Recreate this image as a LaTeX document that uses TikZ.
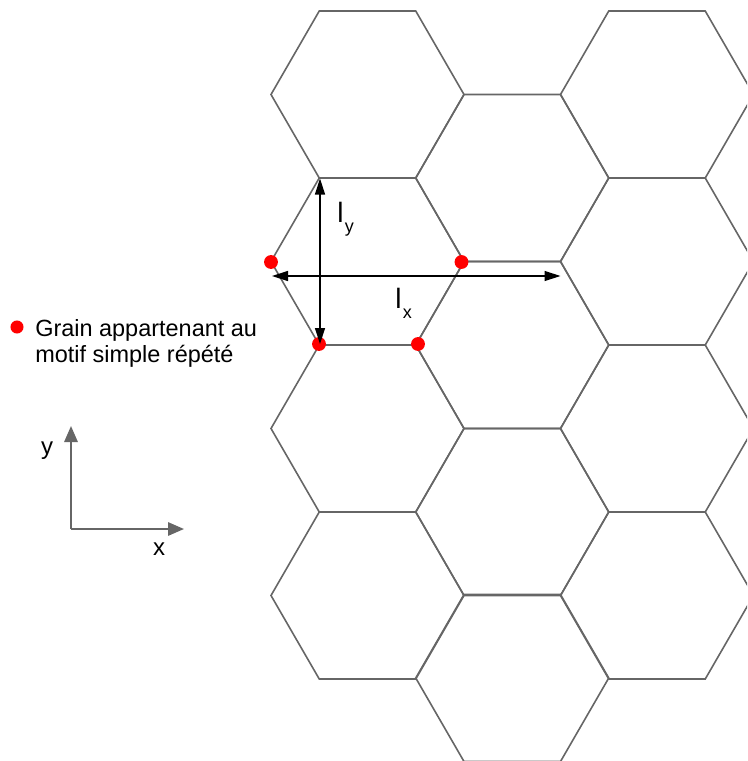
\documentclass[tikz,border=0pt]{standalone}
\usepackage{fontspec}
\setmainfont{Liberation Sans}
\usetikzlibrary{arrows.meta}
\tikzset{
  hexa/.style={draw=black!60,line width=1.2pt,line join=miter},
  grain/.style={fill=red},
  cote/.style={{Triangle[length=12pt,width=7.5pt]}-{Triangle[length=12pt,width=7.5pt]},line width=1pt},
  axe/.style={-{Triangle[length=12pt,width=10pt]},draw=black!60,line width=1.5pt},
  texte/.style={font=\fontsize{17.6}{19.5}\selectfont,inner sep=0pt}
}
% longueur l avec indice
\newcommand{\longueur}[1]{{\fontsize{21}{21}\selectfont l\hspace{1pt}\raisebox{-7.5pt}{\fontsize{13.5}{14}\selectfont #1}}}
% hexagone a sommet plat, centre (#1,#2)
\newcommand{\hexagone}[2]{%
  \draw[hexa,shift={(#1,#2)}] (-96.5,0) -- (-48.25,-83.5) -- (48.25,-83.5)
    -- (96.5,0) -- (48.25,83.5) -- (-48.25,83.5) -- cycle;}

\begin{document}
\begin{tikzpicture}[x=0.75pt,y=-0.75pt]
  \useasboundingbox (0,0) rectangle (747,761);
  % pavage
  \begin{scope}
    \clip (0,0) rectangle (747,761);
    \foreach \cx in {367.5,657}
      \foreach \cy in {94.5,261.5,428.5,595.5}
        {\hexagone{\cx}{\cy}}
    \foreach \cy in {178,345,512,678}
      {\hexagone{512.25}{\cy}}
  \end{scope}

  % grains du motif
  \coordinate (g1) at (271,262);
  \coordinate (g2) at (461.5,262);
  \coordinate (g3) at (319,344);
  \coordinate (g4) at (418,344);
  \foreach \g in {g1,g2,g3,g4}
    \fill[grain] (\g) circle[radius=5.2pt];

  % cotes
  \coordinate (ly-haut) at (320,178.5);
  \coordinate (ly-bas) at (320,344);
  \coordinate (lx-gauche) at (272,276);
  \coordinate (lx-droite) at (560.5,276);
  \draw[cote] (ly-haut) -- (ly-bas);
  \draw[cote] (lx-gauche) -- (lx-droite);
  \node[texte,anchor=base west] (lab-ly) at (337,222) {\longueur{y}};
  \node[texte,anchor=base west] (lab-lx) at (395,308) {\longueur{x}};

  % legende
  \coordinate (leg) at (17,327);
  \fill[grain] (leg) circle[radius=4.9pt];
  \node[texte,anchor=base west,align=left] (lab-leg) at (35,362)
    {Grain appartenant au\\motif simple répété};

  % repere
  \coordinate (origine) at (71,529);
  \coordinate (axe-y) at (71,426);
  \coordinate (axe-x) at (184,529);
  \draw[axe] (origine) -- (axe-y);
  \draw[axe] (origine) -- (axe-x);
  \node[texte,font=\fontsize{18}{18}\selectfont] (lab-y) at (47,451) {y};
  \node[texte,font=\fontsize{18}{18}\selectfont] (lab-x) at (159,549) {x};
\end{tikzpicture}
\end{document}
